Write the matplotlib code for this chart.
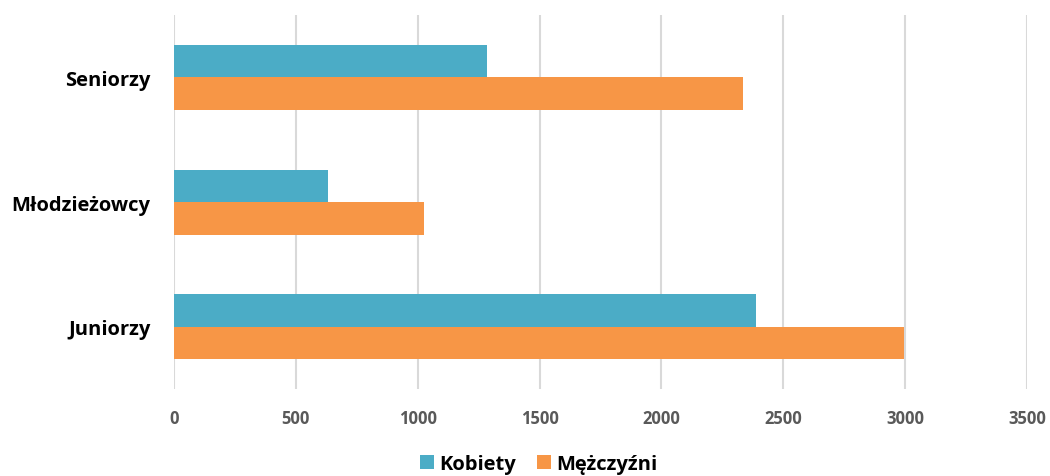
import matplotlib
matplotlib.use("Agg")
import matplotlib.pyplot as plt
import numpy as np

categories = ["Juniorzy", "Młodzieżowcy", "Seniorzy"]
kobiety = [2388, 632, 1284]
mezczyzni = [2995, 1026, 2335]
xticks = [0, 500, 1000, 1500, 2000, 2500, 3000, 3500]

plt.rcParams['font.family'] = ['Open Sans', 'DejaVu Sans']

fig = plt.figure(figsize=(10.5, 4.77), dpi=100)
ax = fig.add_axes([0.1657, 0.182, 0.978 - 0.1657, 0.9665 - 0.182])

y = np.arange(len(categories))
h = 0.26
ax.barh(y + h / 2, kobiety, height=h, color="#4BACC6", label="Kobiety", zorder=3)
ax.barh(y - h / 2, mezczyzni, height=h, color="#F79646", label="Mężczyźni", zorder=3)

ax.set_xlim(0, 3500)
ax.set_ylim(-0.5, 2.5)
ax.set_xticks(xticks)
ax.set_xticklabels([str(t) for t in xticks], fontsize=12, fontweight="bold", color="#595959")
ax.set_yticks(y)
ax.set_yticklabels(categories, fontsize=14.5, fontweight="bold", color="black")
ax.tick_params(axis="both", length=0)
ax.tick_params(axis="x", pad=14)
ax.tick_params(axis="y", pad=17)
ax.grid(axis="x", color="#D9D9D9", linewidth=1.5, zorder=0)
for s in ax.spines.values():
    s.set_visible(False)

leg = fig.legend(loc="center", bbox_to_anchor=(0.513, 0.026), ncol=2, frameon=False,
                 prop={"size": 14.5, "weight": "bold"}, handlelength=0.7, handleheight=0.7,
                 handletextpad=0.3, columnspacing=1.0)

fig.savefig("out.png", dpi=100)
